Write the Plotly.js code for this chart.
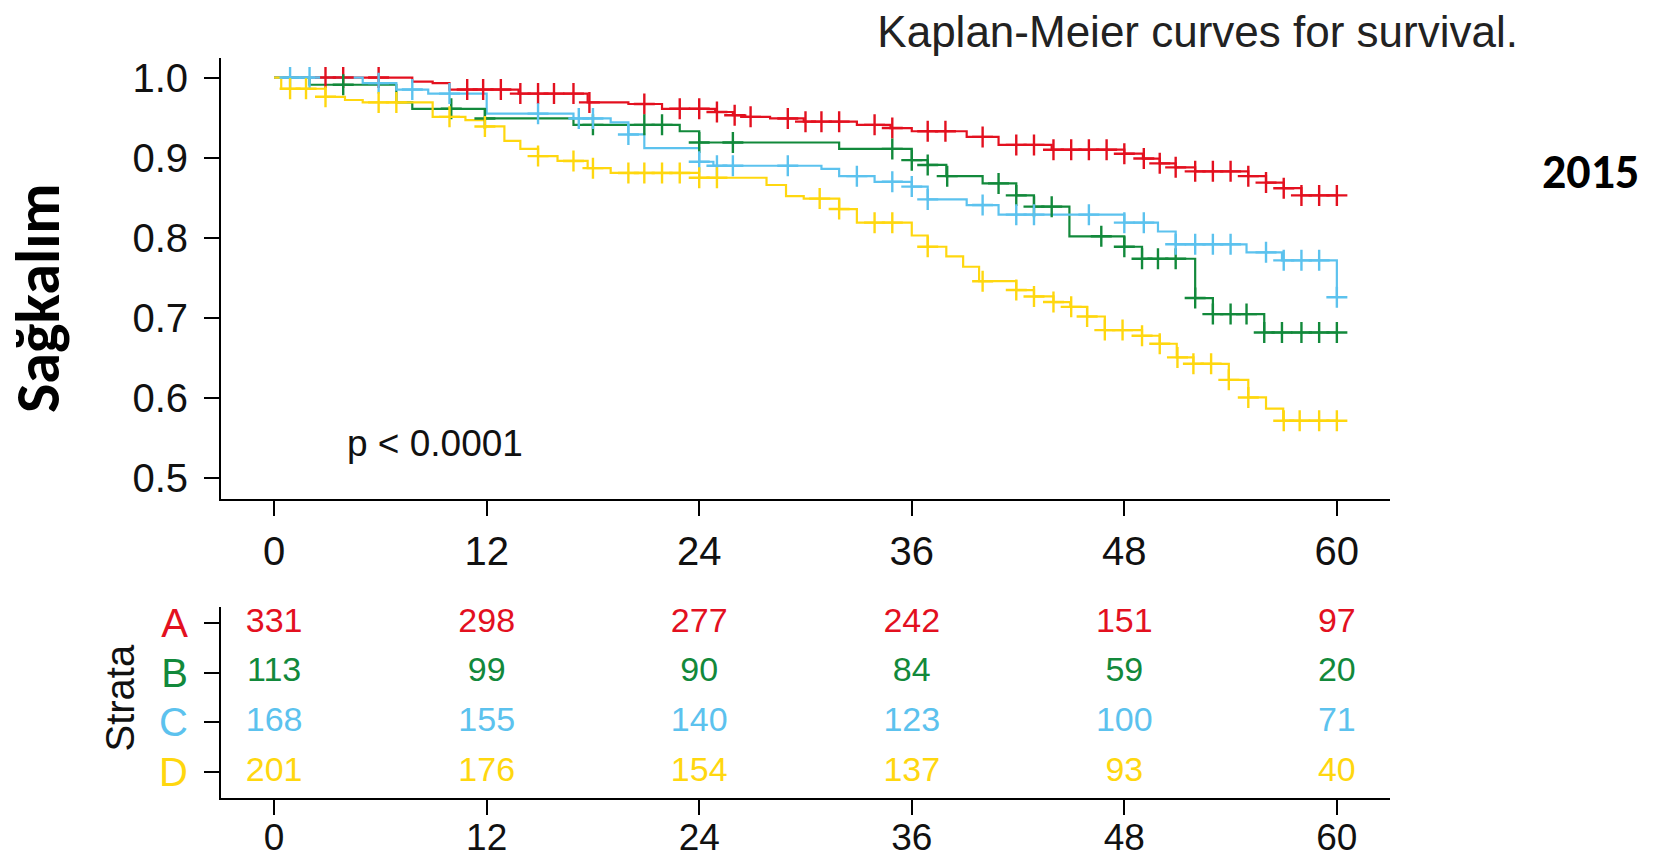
<!DOCTYPE html>
<html>
<head>
<meta charset="utf-8">
<script src="https://cdn.plot.ly/plotly-3.0.1.min.js"></script>
<style>html,body{margin:0;padding:0;background:#fff;}#chart{width:1653px;height:859px;}</style>
</head>
<body>
<div id="chart"></div>
<script>
// ---------- data ----------
const strata = ['A', 'B', 'C', 'D'];

// Kaplan-Meier step functions: time (months) and survival after each step
const timeA = [0, 7.8, 8.95, 9.9, 13.8, 17.7, 20.0, 21.9, 24.9, 25.9, 26.6, 28.0, 29.9, 32.9, 34.8, 36.0, 39.1, 40.9, 43.9, 48.0, 49.05, 50.0, 50.9, 52.0, 55.0, 56.0, 57.0, 58.0, 60];
const survA = [1.0, 0.995, 0.993, 0.985, 0.980, 0.969, 0.967, 0.961, 0.957, 0.953, 0.951, 0.949, 0.945, 0.941, 0.937, 0.933, 0.926, 0.916, 0.910, 0.905, 0.899, 0.893, 0.888, 0.883, 0.877, 0.869, 0.862, 0.853, 0.853];
const censorA = [2.9, 3.9, 5.9, 10.9, 11.8, 12.8, 13.9, 14.9, 15.8, 16.9, 17.8, 20.9, 22.9, 24.0, 25.0, 26.0, 26.9, 29.0, 30.0, 30.9, 31.9, 33.9, 34.9, 36.9, 37.9, 40.0, 41.9, 42.9, 44.0, 45.0, 46.0, 47.0, 48.0, 49.1, 50.0, 50.9, 52.0, 53.0, 54.0, 55.0, 56.0, 57.0, 58.0, 59.0, 60.0];

const timeB = [0, 2.0, 6.9, 7.8, 11.9, 16.9, 22.9, 24.0, 31.9, 36.0, 36.9, 37.95, 40.0, 41.9, 42.9, 44.9, 48.0, 49.0, 52.0, 53.0, 55.9, 60];
const survB = [1.0, 0.991, 0.969, 0.961, 0.949, 0.941, 0.933, 0.919, 0.911, 0.897, 0.891, 0.877, 0.868, 0.853, 0.839, 0.802, 0.789, 0.774, 0.725, 0.705, 0.682, 0.682];
const censorB = [3.9, 10.0, 11.9, 18.0, 20.9, 21.9, 24.0, 25.9, 34.9, 36.0, 36.9, 38.0, 40.9, 41.9, 42.9, 43.9, 46.7, 48.0, 49.0, 49.9, 50.9, 52.0, 53.0, 54.0, 54.9, 55.9, 56.9, 58.0, 59.0, 60.0];

const timeC = [0, 5.0, 6.9, 8.7, 12.0, 16.9, 19.0, 20.0, 20.9, 24.0, 24.8, 30.9, 31.9, 33.9, 36.0, 36.9, 39.1, 40.9, 48.0, 49.9, 50.9, 54.9, 56.9, 60];
const survC = [1.0, 0.993, 0.985, 0.980, 0.955, 0.949, 0.944, 0.929, 0.912, 0.895, 0.890, 0.886, 0.877, 0.870, 0.864, 0.848, 0.841, 0.829, 0.819, 0.808, 0.792, 0.782, 0.772, 0.726];
const censorC = [0.9, 2.0, 5.9, 7.8, 9.9, 14.9, 17.2, 18.0, 20.0, 24.0, 25.0, 25.9, 29.0, 32.9, 34.9, 36.0, 36.9, 40.0, 41.9, 42.9, 46.0, 48.0, 49.1, 50.9, 52.0, 53.0, 54.0, 56.0, 57.0, 58.0, 59.0, 60.0];

const timeD = [0, 0.4, 2.9, 4.0, 5.0, 8.95, 10.8, 11.9, 13.0, 13.9, 14.9, 16.0, 17.7, 19.0, 24.0, 27.8, 28.9, 29.9, 31.9, 32.9, 36.0, 36.9, 37.95, 38.9, 39.8, 41.9, 42.9, 44.0, 44.95, 45.9, 46.9, 49.0, 50.0, 50.96, 51.9, 53.9, 55.0, 56.0, 56.97, 60];
const survD = [1.0, 0.986, 0.976, 0.972, 0.969, 0.951, 0.947, 0.939, 0.921, 0.911, 0.902, 0.896, 0.887, 0.881, 0.875, 0.866, 0.852, 0.849, 0.836, 0.819, 0.803, 0.789, 0.777, 0.764, 0.746, 0.735, 0.727, 0.720, 0.714, 0.702, 0.685, 0.678, 0.668, 0.651, 0.643, 0.623, 0.601, 0.587, 0.572, 0.572];
const censorD = [0.9, 1.8, 2.9, 5.9, 6.9, 9.9, 11.9, 14.9, 16.9, 18.0, 20.0, 20.9, 21.9, 22.9, 24.0, 25.0, 30.8, 31.9, 33.9, 34.9, 36.9, 40.0, 41.9, 42.9, 44.0, 45.0, 45.9, 46.9, 47.9, 49.0, 50.0, 51.0, 51.9, 52.9, 53.9, 55.0, 57.0, 57.9, 59.0, 60.0];

// Number at risk table
const riskTimes = [0, 12, 24, 36, 48, 60];
const riskA = [331, 298, 277, 242, 151, 97];
const riskB = [113, 99, 90, 84, 59, 20];
const riskC = [168, 155, 140, 123, 100, 71];
const riskD = [201, 176, 154, 137, 93, 40];

const yTicks = [0.5, 0.6, 0.7, 0.8, 0.9, 1.0];
const yTickText = ['0.5', '0.6', '0.7', '0.8', '0.9', '1.0'];
const xTicks = [0, 12, 24, 36, 48, 60];

// ---------- styles ----------
const colors = { A: '#E3101F', B: '#12893B', C: '#5CC2EE', D: '#FFD70F' };
const helv = 'Liberation Sans, Arial, Helvetica, sans-serif';
const boldFont = 'Carlito, Open Sans, Noto Sans, sans-serif';

const groups = {
  A: { t: timeA, s: survA, c: censorA, n: riskA },
  B: { t: timeB, s: survB, c: censorB, n: riskB },
  C: { t: timeC, s: survC, c: censorC, n: riskC },
  D: { t: timeD, s: survD, c: censorD, n: riskD }
};
const rowPos = { A: 4, B: 3, C: 2, D: 1 };

function survAt(t, times, surv) {
  let v = surv[0];
  for (let i = 0; i < times.length; i++) { if (times[i] <= t) v = surv[i]; }
  return v;
}

const traces = [];
strata.forEach(k => {
  const g = groups[k];
  traces.push({
    x: g.t, y: g.s, type: 'scatter', mode: 'lines', name: k,
    line: { shape: 'hv', color: colors[k], width: 2.2 },
    xaxis: 'x', yaxis: 'y', hoverinfo: 'skip', showlegend: false
  });
});
strata.forEach(k => {
  const g = groups[k];
  traces.push({
    x: g.c, y: g.c.map(t => survAt(t, g.t, g.s)), type: 'scatter', mode: 'markers', name: k + ' censored',
    marker: { symbol: 'cross-thin', size: 15, color: colors[k], line: { color: colors[k], width: 2.4 } },
    xaxis: 'x', yaxis: 'y', hoverinfo: 'skip', showlegend: false
  });
});
strata.forEach(k => {
  const g = groups[k];
  traces.push({
    x: riskTimes, y: riskTimes.map(() => rowPos[k]), text: g.n.map(String),
    type: 'scatter', mode: 'text', textposition: 'middle center',
    textfont: { family: helv, size: 34, color: colors[k] },
    xaxis: 'x2', yaxis: 'y2', hoverinfo: 'skip', showlegend: false
  });
});

const W = 1653, H = 859;
const xDom = [221 / W, 1390 / W];
const axisCommon = {
  showline: true, linecolor: '#000', linewidth: 2, mirror: false,
  ticks: 'outside', ticklen: 15, tickwidth: 2, tickcolor: '#000',
  showgrid: false, zeroline: false, fixedrange: true,
  tickfont: { family: helv, size: 40, color: '#111' }
};

const layout = {
  width: W, height: H,
  margin: { l: 0, r: 0, t: 0, b: 0, pad: 0 },
  paper_bgcolor: '#fff', plot_bgcolor: '#fff',
  showlegend: false,
  title: {
    text: 'Kaplan-Meier curves for survival.',
    font: { family: helv, size: 44, color: '#222' },
    x: 1518 / W, xanchor: 'right', xref: 'paper',
    y: 1 - 32 / H, yanchor: 'middle', yref: 'paper'
  },
  xaxis: Object.assign({}, axisCommon, {
    domain: xDom, range: [-3, 63], tickvals: xTicks, anchor: 'y', ticklabelstandoff: 1
  }),
  yaxis: Object.assign({}, axisCommon, {
    domain: [1 - 498.5 / H, 1 - 57.5 / H], range: [0.475, 1.025],
    tickvals: yTicks, ticktext: yTickText, anchor: 'x', ticklabelstandoff: 8
  }),
  xaxis2: Object.assign({}, axisCommon, {
    domain: xDom, range: [-3, 63], tickvals: xTicks, anchor: 'y2', ticklabelstandoff: -9,
    tickfont: { family: helv, size: 37, color: '#111' }
  }),
  yaxis2: Object.assign({}, axisCommon, {
    domain: [1 - 798 / H, 1 - 607 / H], range: [0.477, 4.322],
    tickvals: strata.map(k => rowPos[k]),
    ticktext: strata.map(k => '<span style="color:' + colors[k] + '">' + k + '</span>'),
    anchor: 'x2', ticklabelstandoff: 8,
    tickfont: { family: helv, size: 40, color: '#111' }
  }),
  annotations: [
    { text: 'p &lt; 0.0001', xref: 'x', yref: 'y', x: 4, y: 0.543, xanchor: 'left', yanchor: 'middle',
      showarrow: false, font: { family: helv, size: 37, color: '#111' } },
    { text: '<b>Sağkalım</b>', xref: 'paper', yref: 'paper', x: 38 / W, y: 1 - 298 / H,
      xanchor: 'center', yanchor: 'middle', textangle: -90, showarrow: false,
      font: { family: boldFont, size: 62, color: '#000' } },
    { text: '<b>2015</b>', xref: 'paper', yref: 'paper', x: 1590 / W, y: 1 - 171 / H,
      xanchor: 'center', yanchor: 'middle', showarrow: false,
      font: { family: boldFont, size: 48, color: '#000' } },
    { text: 'Strata', xref: 'paper', yref: 'paper', x: 119.5 / W, y: 1 - 698 / H,
      xanchor: 'center', yanchor: 'middle', textangle: -90, showarrow: false,
      font: { family: helv, size: 40, color: '#111' } }
  ]
};

Plotly.newPlot('chart', traces, layout, { displayModeBar: false, staticPlot: true });
</script>
</body>
</html>
